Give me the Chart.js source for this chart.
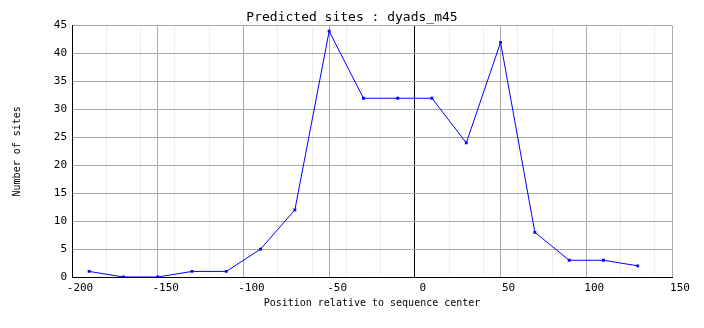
<!DOCTYPE html>
<html>
<head>
<meta charset="utf-8">
<script src="https://cdn.jsdelivr.net/npm/chart.js@4"></script>
<style>
  html, body { margin: 0; padding: 0; background: #fff; }
  #wrap { width: 704px; height: 328px; }
</style>
</head>
<body>
<div id="wrap"><canvas id="chart"></canvas></div>
<script>
// Predicted sites : dyads_m45 — sites per 20-bp window, relative to sequence center
const positions = [-190, -170, -150, -130, -110, -90, -70, -50, -30, -10, 10, 30, 50, 70, 90, 110, 130];
const sites     = [1, 0, 0, 1, 1, 5, 12, 44, 32, 32, 32, 24, 42, 8, 3, 3, 2];

const xRange = [-200, 150];
const yRange = [0, 45];
const MONO = "'DejaVu Sans Mono', monospace";

// x gridlines every 10: major (gray) on 50s, faint on 20s, black on 0 and left edge
function xGridColor(ctx) {
  const v = ctx.tick ? ctx.tick.value : null;
  if (v === 0 || v === xRange[0]) return "#000000";
  if (v % 50 === 0) return "#aaaaaa";
  if (v % 20 === 0) return "#eeeeee";
  return "rgba(0,0,0,0)";
}

new Chart(document.getElementById("chart"), {
  type: "line",
  data: {
    datasets: [{
      label: "dyads_m45",
      data: positions.map((p, i) => ({ x: p, y: sites[i] })),
      borderColor: "#0000ff",
      backgroundColor: "#0000ff",
      borderWidth: 1,
      pointStyle: "rect",
      pointRadius: 2,
      pointBorderWidth: 0,
      tension: 0,
      fill: false,
    }],
  },
  options: {
    responsive: true,
    maintainAspectRatio: false,
    animation: false,
    layout: { padding: { left: 32, right: 32, top: 0, bottom: 0 } },
    plugins: {
      legend: { display: false },
      tooltip: { enabled: false },
      title: {
        display: true,
        text: "Predicted sites : dyads_m45",
        color: "#000",
        font: { family: MONO, size: 13, weight: "normal" },
        padding: { top: 10, bottom: 0 },
      },
    },
    scales: {
      x: {
        type: "linear",
        min: xRange[0],
        max: xRange[1],
        afterFit: s => { s.height = 51; },
        ticks: {
          stepSize: 10,
          autoSkip: false,
          maxRotation: 0,
          color: "#000",
          font: { family: MONO, size: 11 },
          padding: 5,
          labelOffset: 8,
          callback: v => (v % 50 === 0 ? String(v) : ""),
        },
        grid: { color: xGridColor, drawTicks: false, lineWidth: 1 },
        border: { color: "#000", width: 1 },
        title: {
          display: true,
          text: "Position relative to sequence center",
          color: "#000",
          font: { family: MONO, size: 10 },
          padding: { top: 0, bottom: 19 },
        },
      },
      y: {
        min: yRange[0],
        max: yRange[1],
        afterFit: s => { s.width = 40; },
        ticks: {
          stepSize: 5,
          color: "#000",
          font: { family: MONO, size: 11 },
          padding: 5,
        },
        grid: {
          color: ctx => (ctx.tick && ctx.tick.value === 0 ? "#000000" : "#aaaaaa"),
          drawTicks: false,
        },
        border: { color: "#000", width: 1 },
        title: {
          display: true,
          text: "Number of sites",
          color: "#000",
          font: { family: MONO, size: 10 },
          padding: { top: -20.5, bottom: 0 },
        },
      },
    },
  },
});
</script>
</body>
</html>
